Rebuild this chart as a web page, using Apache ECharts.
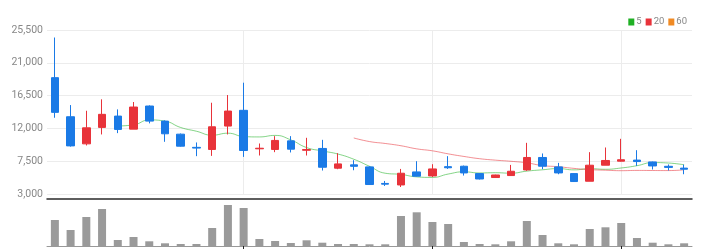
<!DOCTYPE html>
<html><head><meta charset="utf-8">
<script src="https://cdn.jsdelivr.net/npm/echarts@6/dist/echarts.min.js"></script>
<style>html,body{margin:0;padding:0;background:#fff}#c{width:712px;height:249px}</style>
</head><body><div id="c"></div>
<script>
const categories = ['01','02','03','04','05','06','07','08','09','10','11','12','13','14','15','16','17','18','19','20','21','22','23','24','25','26','27','28','29','30','31','32','33','34','35','36','37','38','39','40','41'];
const opens  = [18960,13600,9880,12140,13690,11900,15070,13000,11210,9400,9110,12320,14480,9200,9110,10290,9000,9250,6540,7000,6720,4450,4240,6030,5480,6750,6810,5800,5260,5530,6300,8010,6720,5800,4750,6950,7500,7650,7400,6800,6550];
const closes = [14200,9600,12080,13930,11860,14930,13000,11260,9560,9300,12220,14380,8970,9280,10350,9150,9100,6670,7130,6800,4300,4350,5850,5440,6440,6600,5890,5060,5610,6120,8010,6810,5890,4710,6950,7600,7700,7450,6850,6650,6400];
const lows   = [13460,9500,9660,11170,11350,11900,12690,10160,9500,8190,8230,11170,8090,8280,8740,8700,8280,6220,6400,6260,4290,4100,3960,5400,5340,6440,5530,5000,5200,5500,6170,6400,5710,4650,4750,6950,7450,6850,6360,6220,5710];
const highs  = [24470,15200,14420,15990,14610,15620,15160,13100,11300,10070,15520,16580,18270,9930,10940,10940,10710,10430,8600,7640,6810,4790,6440,7500,7090,8190,6900,5850,5650,6990,10020,8560,7270,5850,8740,9380,10570,9010,7450,7050,7030];
const volumes = [260000,160000,290000,370000,60000,90000,47000,27000,20000,20000,180000,410000,380000,70000,50000,30000,57000,33000,20000,20000,17000,17000,300000,337000,240000,220000,40000,20000,17000,47000,250000,110000,27000,17000,170000,187000,230000,80000,33000,17000,27000];
const priceTicks = [3000,7500,12000,16500,21000,25500];
const maPeriods = [5,20,60];

function movingAverage(n){
  return closes.map((c,i)=>{
    if(i < n-1) return '-';
    let s=0; for(let k=i-n+1;k<=i;k++) s+=closes[k];
    return Math.round(s/n);
  });
}
const candleData = categories.map((c,i)=>[opens[i],closes[i],lows[i],highs[i]]);
const maColors = ['#1fb024','#e8333a','#f08a24'];
const markEvery = (i)=> i>0 && i%12===0;

const chart = echarts.init(document.getElementById('c'),null,{renderer:'canvas'});
chart.setOption({
  animation:false,
  textStyle:{fontFamily:'"Liberation Sans Narrow","Roboto",sans-serif'},
  legend:{
    right:20, top:12, itemWidth:6, itemHeight:7, itemGap:4,
    icon:'rect',
    textStyle:{fontSize:9.5,color:'#888',padding:[0,0,0,-3]},
    data: maPeriods.map(String)
  },
  grid:[
    {left:47, right:20, top:30, height:164},
    {left:47, right:20, top:203, bottom:3}
  ],
  xAxis:[
    {type:'category', gridIndex:0, data:categories, boundaryGap:true, offset:5,
     axisLine:{lineStyle:{color:'#2a2a2a',width:1.5}}, axisTick:{show:false}, axisLabel:{show:false},
     splitLine:{show:true, alignWithLabel:true, interval:(i)=>markEvery(i), lineStyle:{color:'#ececec'}}},
    {type:'category', gridIndex:1, data:categories, boundaryGap:true,
     axisLine:{lineStyle:{color:'#999',width:1}},
     axisTick:{show:true, alignWithLabel:true, interval:(i)=>markEvery(i), length:4, lineStyle:{color:'#222'}},
     axisLabel:{show:false}, splitLine:{show:false}}
  ],
  yAxis:[
    {type:'value', gridIndex:0, min:3000, max:25500, interval:4500,
     axisLine:{show:false}, axisTick:{show:false},
     axisLabel:{fontSize:10.5,color:'#888',margin:4,
       formatter:(v)=>v.toLocaleString('en-US')},
     splitLine:{lineStyle:{color:'#ececec'}}},
    {type:'value', gridIndex:1, min:0, max:430000, show:false, splitLine:{show:false}}
  ],
  series:[
    {type:'candlestick', name:'price', xAxisIndex:0, yAxisIndex:0, data:candleData, barWidth:8,
     itemStyle:{color:'#e8333a', color0:'#1a7ae6', borderColor:'#e8333a', borderColor0:'#1a7ae6', borderWidth:1}},
    ...maPeriods.map((p,k)=>({
      type:'line', name:String(p), xAxisIndex:0, yAxisIndex:0, data:movingAverage(p),
      showSymbol:false, symbol:'none', smooth:true, color:maColors[k],
      lineStyle:{width:1, opacity:0.55}, z:1
    })),
    {type:'bar', name:'volume', xAxisIndex:1, yAxisIndex:1, data:volumes, barWidth:8,
     itemStyle:{color:'#9a9a9a'}}
  ]
});
</script></body></html>
